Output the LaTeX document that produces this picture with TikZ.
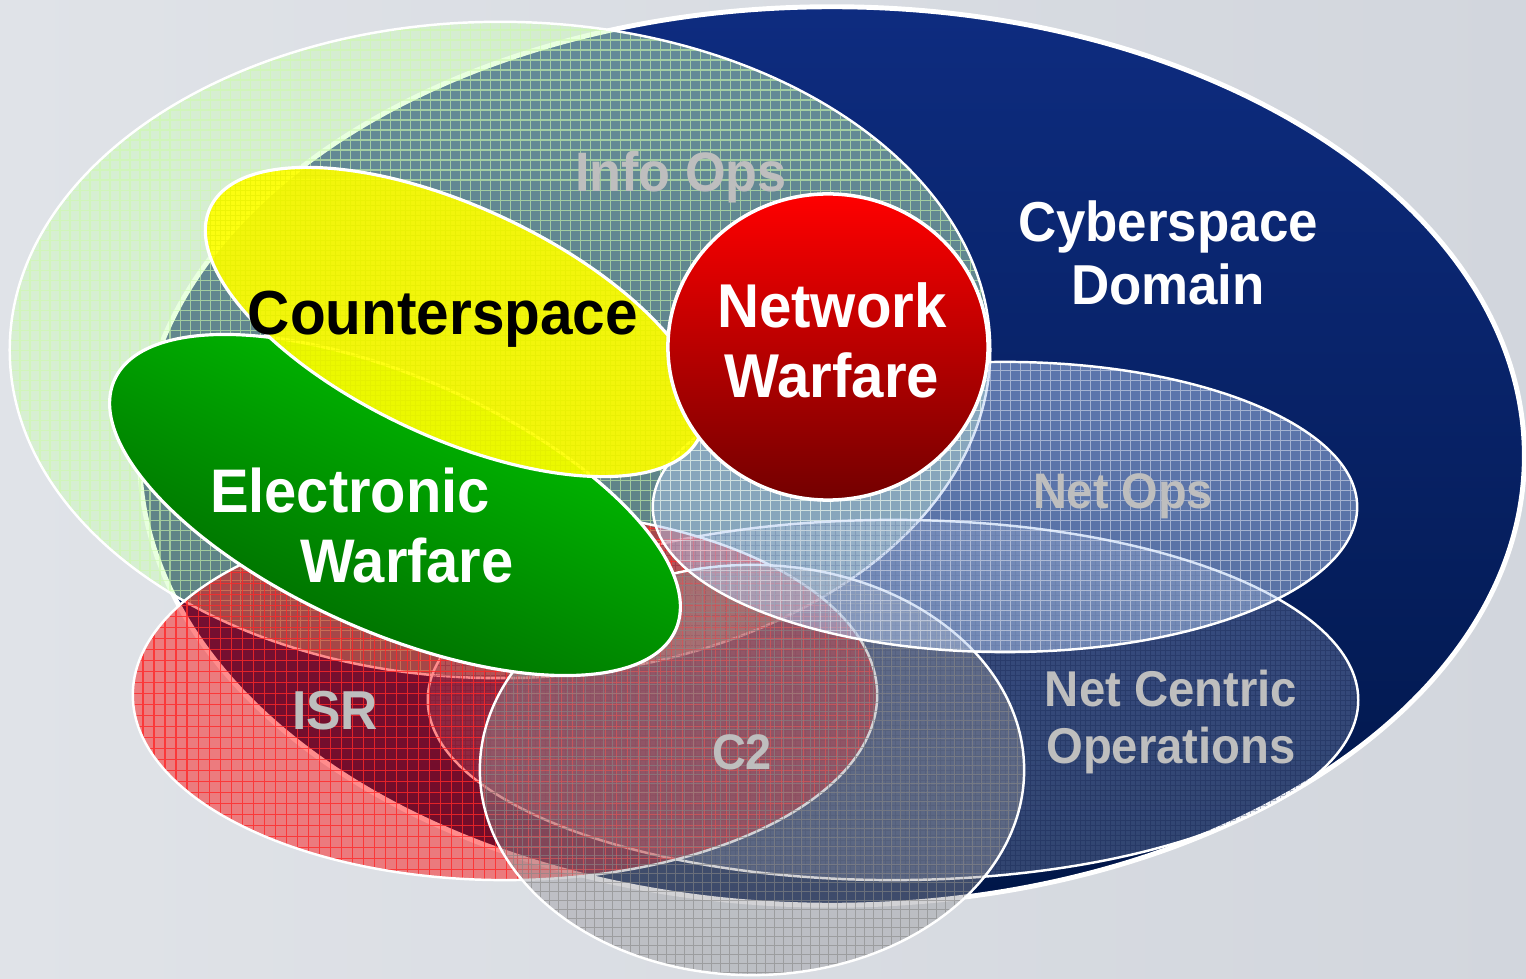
\documentclass[tikz,border=0pt]{standalone}
\usepackage{fontspec}
\newfontfamily\labfont[FakeStretch=0.94]{Liberation Sans}
\definecolor{bgc}{RGB}{210,214,221}
\definecolor{bgL}{RGB}{224,227,232}
\definecolor{navyT}{RGB}{14,44,128}
\definecolor{navyM}{RGB}{11,38,115}
\definecolor{navyB}{RGB}{0,22,72}
\definecolor{infoC}{RGB}{205,255,185}
\definecolor{infoG}{RGB}{205,250,170}
\definecolor{yel}{RGB}{255,255,0}
\definecolor{yelG}{RGB}{225,235,0}
\definecolor{grT}{RGB}{0,205,0}
\definecolor{grM}{RGB}{0,160,0}
\definecolor{grB}{RGB}{0,95,0}
\definecolor{rdT}{RGB}{255,0,0}
\definecolor{rdB}{RGB}{115,0,0}
\definecolor{opsC}{RGB}{175,200,240}
\definecolor{isrC}{RGB}{255,0,0}
\definecolor{isrG}{RGB}{255,40,40}
\definecolor{ncC}{RGB}{200,210,230}
\definecolor{ncG}{RGB}{20,35,80}
\definecolor{c2C}{RGB}{150,150,155}
\definecolor{c2G}{RGB}{135,135,135}
\definecolor{labgray}{RGB}{190,190,190}
\newcommand{\fs}[1]{\fontsize{#1}{#1}\selectfont}
\tikzset{
  rim/.style={draw=white, line width=0.7pt},
  lab/.style={inner sep=0pt, anchor=base, text=white},
  glab/.style={inner sep=0pt, anchor=base, text=labgray},
}
\begin{document}
\begin{tikzpicture}[x=0.01cm,y=-0.01cm]
\useasboundingbox (0,0) rectangle (1526,979);
\shade[left color=bgL, right color=bgc] (0,0) rectangle (1526,979);

% Cyberspace domain
\shade[top color=navyT, middle color=navyM, bottom color=navyB] (832,456) ellipse [x radius=6.92cm, y radius=4.49cm];
\draw[white, line width=1.4pt] (832,456) ellipse [x radius=6.92cm, y radius=4.49cm];

% Info Ops
\begin{scope}
\clip (500,350) ellipse [x radius=4.90cm, y radius=3.28cm];
\fill[infoC, opacity=.45] (0,0) rectangle (1526,979);
\draw[infoG, opacity=.6, line width=.35pt, step=0.1cm] (0,0) grid (1526,979);
\end{scope}
\draw[rim] (500,350) ellipse [x radius=4.90cm, y radius=3.28cm];

% Net Centric Operations
\begin{scope}
\clip (893,700) ellipse [x radius=4.65cm, y radius=1.80cm];
\fill[ncC, opacity=.25] (400,500) rectangle (1400,900);
\draw[ncG, opacity=.35, line width=.25pt, step=0.05cm] (400,500) grid (1400,900);
\end{scope}
\draw[rim] (893,700) ellipse [x radius=4.65cm, y radius=1.80cm];

% ISR
\begin{scope}
\clip (505,695) ellipse [x radius=3.72cm, y radius=1.85cm];
\fill[isrC, opacity=.45] (100,480) rectangle (900,900);
\draw[isrG, opacity=.8, line width=.35pt, step=0.11cm] (100,480) grid (900,900);
\end{scope}
\draw[rim] (505,695) ellipse [x radius=3.72cm, y radius=1.85cm];

% C2
\begin{scope}
\clip (752,770) ellipse [x radius=2.72cm, y radius=2.05cm];
\fill[c2C, opacity=.42] (450,550) rectangle (1050,979);
\draw[c2G, opacity=.6, line width=.3pt, step=0.09cm] (450,550) grid (1050,979);
\end{scope}
\draw[rim] (752,770) ellipse [x radius=2.72cm, y radius=2.05cm];

% Net Ops
\begin{scope}
\clip (1005,507) ellipse [x radius=3.52cm, y radius=1.45cm];
\fill[opsC, opacity=.5] (640,350) rectangle (1370,660);
\draw[white, opacity=.45, line width=.35pt, step=0.1cm] (640,350) grid (1370,660);
\end{scope}
\draw[rim] (1005,507) ellipse [x radius=3.52cm, y radius=1.45cm];

% Electronic Warfare
\begin{scope}
\clip[rotate around={-24:(395,505)}] (395,505) ellipse [x radius=3.07cm, y radius=1.27cm];
\shade[top color=grT, middle color=grM, bottom color=grB, shading angle=-24] (100,325) rectangle (690,685);
\end{scope}
\draw[rim, line width=.9pt, rotate around={-24:(395,505)}] (395,505) ellipse [x radius=3.07cm, y radius=1.27cm];

% Counterspace
\begin{scope}
\clip[rotate around={-25:(455,322)}] (455,322) ellipse [x radius=2.70cm, y radius=1.15cm];
\fill[yel, opacity=.92] (180,150) rectangle (720,500);
\draw[yelG, opacity=.5, line width=.25pt, step=0.05cm] (180,150) grid (720,500);
\end{scope}
\draw[rim, line width=.9pt, rotate around={-25:(455,322)}] (455,322) ellipse [x radius=2.70cm, y radius=1.15cm];

% Network Warfare
\shade[top color=rdT, bottom color=rdB] (828,347) ellipse [x radius=1.60cm, y radius=1.53cm];
\draw[white, line width=1pt] (828,347) ellipse [x radius=1.60cm, y radius=1.53cm];

% labels
\node[glab, font=\labfont\bfseries\fs{15.8pt}] (infoops) at (681,192) {Info Ops};
\node[lab, font=\labfont\bfseries\fs{16pt}] (cyber1) at (1168,242) {Cyberspace};
\node[lab, font=\labfont\bfseries\fs{16pt}] (cyber2) at (1168,305) {Domain};
\node[lab, text=black, font=\labfont\bfseries\fs{17.7pt}] (counter) at (443,335) {Counterspace};
\node[lab, font=\labfont\bfseries\fs{17.6pt}] (nw1) at (832,328) {Network};
\node[lab, font=\labfont\bfseries\fs{17.6pt}] (nw2) at (832,398) {Warfare};
\node[lab, font=\labfont\bfseries\fs{17.5pt}] (ew1) at (350,513) {Electronic};
\node[lab, font=\labfont\bfseries\fs{17.5pt}] (ew2) at (407,583) {Warfare};
\node[glab, font=\labfont\bfseries\fs{14.2pt}] (netops) at (1123,509) {Net Ops};
\node[glab, font=\labfont\bfseries\fs{14.3pt}] (nco1) at (1171,706) {Net Centric};
\node[glab, font=\labfont\bfseries\fs{14.3pt}] (nco2) at (1171,763) {Operations};
\node[glab, font=\labfont\bfseries\fs{15.6pt}] (isr) at (335,730) {ISR};
\node[glab, font=\labfont\bfseries\fs{14.2pt}] (c2) at (742,769) {C2};
\end{tikzpicture}
\end{document}
